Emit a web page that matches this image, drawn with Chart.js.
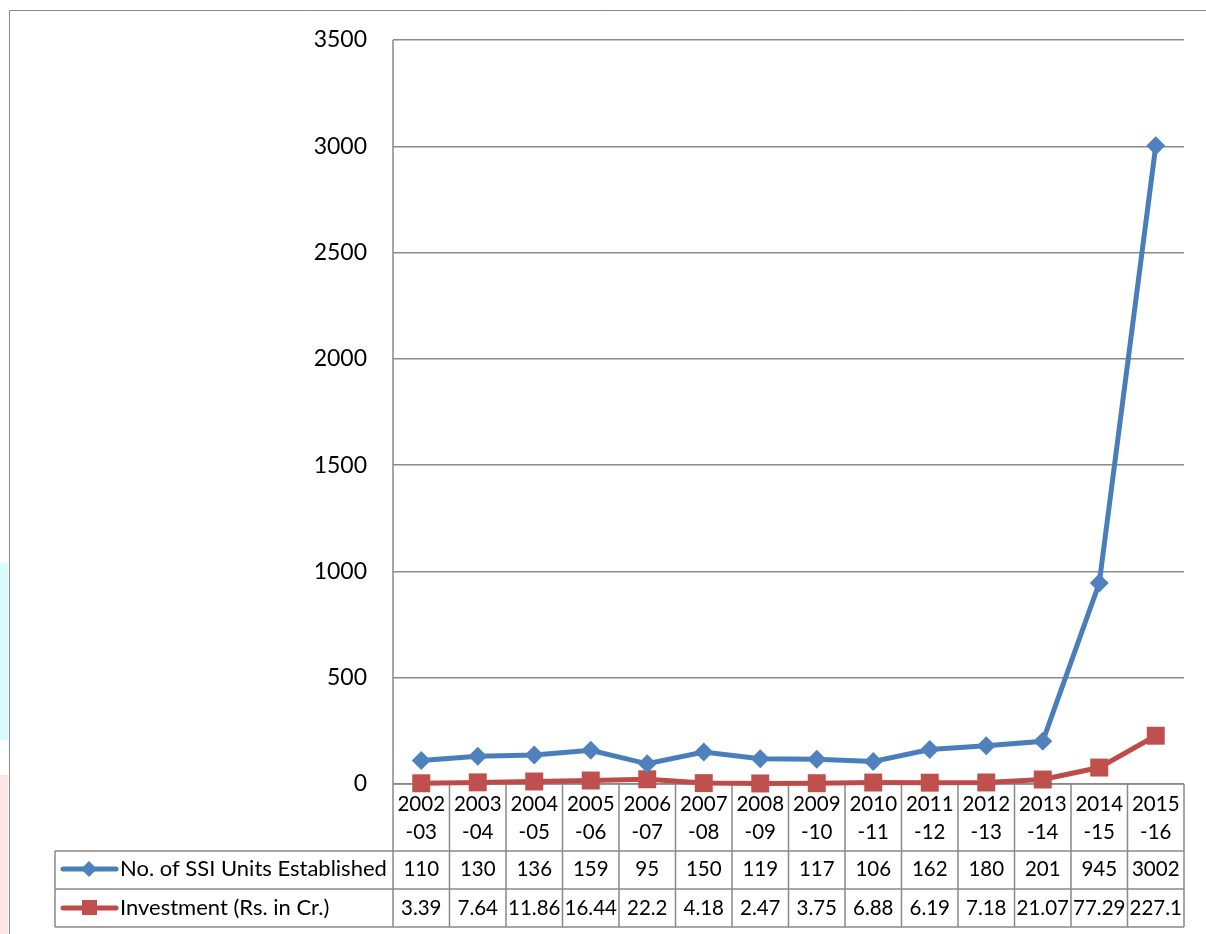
<!DOCTYPE html>
<html>
<head>
<meta charset="utf-8">
<script src="https://cdn.jsdelivr.net/npm/chart.js@4.4.1/dist/chart.umd.min.js"></script>
<style>
html,body{margin:0;padding:0;background:#fff;}
#wrap{position:relative;width:1206px;height:934px;}
canvas{display:block;}
</style>
</head>
<body>
<div id="wrap"><canvas id="c" width="1206" height="934" style="width:1206px;height:934px"></canvas></div>
<script>
const categories = ["2002-03","2003-04","2004-05","2005-06","2006-07","2007-08","2008-09","2009-10","2010-11","2011-12","2012-13","2013-14","2014-15","2015-16"];
const ssiUnits = [110,130,136,159,95,150,119,117,106,162,180,201,945,3002];
const investment = [3.39,7.64,11.86,16.44,22.2,4.18,2.47,3.75,6.88,6.19,7.18,21.07,77.29,227.1];
const seriesNames = ["No. of SSI Units Established","Investment (Rs. in Cr.)"];
const yTicks = [0,500,1000,1500,2000,2500,3000,3500];

const BLUE_LINE = "#4A7EBB", BLUE_PT = "#4F81BD";
const RED_LINE = "#BE4B48", RED_PT = "#C0504D";
const GRID = "#898989";
const FONT = "Lato, 'Open Sans', sans-serif";

const tablePlugin = {
  id: 'tablePlugin',
  beforeDraw(chart){
    const ctx = chart.ctx;
    ctx.save();
    ctx.fillStyle = "#fff";
    ctx.fillRect(0,0,chart.width,chart.height);
    ctx.fillStyle = "#d8fcfc";
    ctx.fillRect(0,563,8,177);
    ctx.fillStyle = "#fde6e5";
    ctx.fillRect(0,775,8,159);
    ctx.strokeStyle = GRID; ctx.lineWidth = 1;
    ctx.beginPath();
    ctx.moveTo(9.5, chart.height); ctx.lineTo(9.5, 10.5); ctx.lineTo(chart.width, 10.5);
    ctx.stroke();
    ctx.restore();
  },
  beforeDatasetsDraw(chart){
    const ctx = chart.ctx, ca = chart.chartArea, xs = chart.scales.x;
    const n = categories.length;
    const cw = (ca.right - ca.left)/n;
    const r0 = ca.bottom, r1 = 851, r2 = 889, r3 = 927, legL = 55;
    ctx.save();
    ctx.strokeStyle = GRID; ctx.lineWidth = 1.5;
    ctx.beginPath();
    ctx.moveTo(ca.left, r0); ctx.lineTo(ca.right, r0);
    [r1,r2,r3].forEach(y=>{ ctx.moveTo(legL, y); ctx.lineTo(ca.right, y); });
    ctx.moveTo(ca.left, ca.top); ctx.lineTo(ca.left, r3);
    ctx.moveTo(legL, r1); ctx.lineTo(legL, r3);
    for(let i=1;i<=n;i++){ const x = ca.left + i*cw; ctx.moveTo(x, r0); ctx.lineTo(x, r3); }
    ctx.stroke();
    ctx.fillStyle = "#000";
    ctx.font = "20.5px " + FONT;
    ctx.textAlign = "center"; ctx.textBaseline = "middle";
    categories.forEach((c,i)=>{
      const x = xs.getPixelForTick(i);
      const k = c.indexOf("-");
      ctx.fillText(c.slice(0,k), x, 804);
      ctx.fillText(c.slice(k), x, 832);
      ctx.fillText(String(ssiUnits[i]), x, 869);
      ctx.fillText(String(investment[i]), x, 908);
    });
    const rows = [[869, BLUE_LINE, BLUE_PT, 'd'],[908, RED_LINE, RED_PT, 's']];
    ctx.font = "22px " + FONT;
    rows.forEach((r,j)=>{
      const y = r[0];
      ctx.strokeStyle = r[1]; ctx.lineWidth = 5; ctx.lineCap = "round";
      ctx.beginPath(); ctx.moveTo(63, y); ctx.lineTo(116, y); ctx.stroke();
      ctx.fillStyle = r[2];
      if (r[3]==='d'){
        ctx.beginPath(); ctx.moveTo(89, y-8); ctx.lineTo(97, y); ctx.lineTo(89, y+8); ctx.lineTo(81, y); ctx.closePath(); ctx.fill();
      } else {
        ctx.fillRect(82, y-8, 15, 15);
      }
      ctx.fillStyle = "#000"; ctx.textAlign = "left";
      ctx.fillText(seriesNames[j], 120, y);
    });
    ctx.restore();
  }
};

new Chart(document.getElementById('c'), {
  type: 'line',
  data: {
    labels: categories,
    datasets: [
      { label: seriesNames[0], data: ssiUnits, borderColor: BLUE_LINE, backgroundColor: BLUE_PT,
        borderWidth: 5, pointStyle: 'rectRot', pointRadius: 9.5, pointBorderWidth: 0, pointBackgroundColor: BLUE_PT,
        tension: 0, clip: false },
      { label: seriesNames[1], data: investment, borderColor: RED_LINE, backgroundColor: RED_PT,
        borderWidth: 5, pointStyle: 'rect', pointRadius: 12.7, pointBorderWidth: 0, pointBackgroundColor: RED_PT,
        tension: 0, clip: false }
    ]
  },
  options: {
    responsive: false,
    animation: false,
    devicePixelRatio: 1,
    layout: { padding: { top: 40, right: 22, left: 0, bottom: 0 } },
    plugins: { legend: { display: false }, tooltip: { enabled: false } },
    scales: {
      x: {
        type: 'category', offset: true,
        grid: { display: false }, border: { display: false },
        ticks: { display: false },
        afterFit(s){ s.height = 150; }
      },
      y: {
        min: 0, max: 3500,
        afterBuildTicks(s){ s.ticks = yTicks.map(v=>({value:v})); },
        grid: { color: GRID, lineWidth: 1.5, drawTicks: false },
        border: { display: false },
        ticks: { color: '#000', font: { family: FONT, size: 23 }, padding: 26,
                 callback: v => String(v) },
        afterFit(s){ s.width = 393; }
      }
    }
  },
  plugins: [tablePlugin]
});
</script>
</body>
</html>
